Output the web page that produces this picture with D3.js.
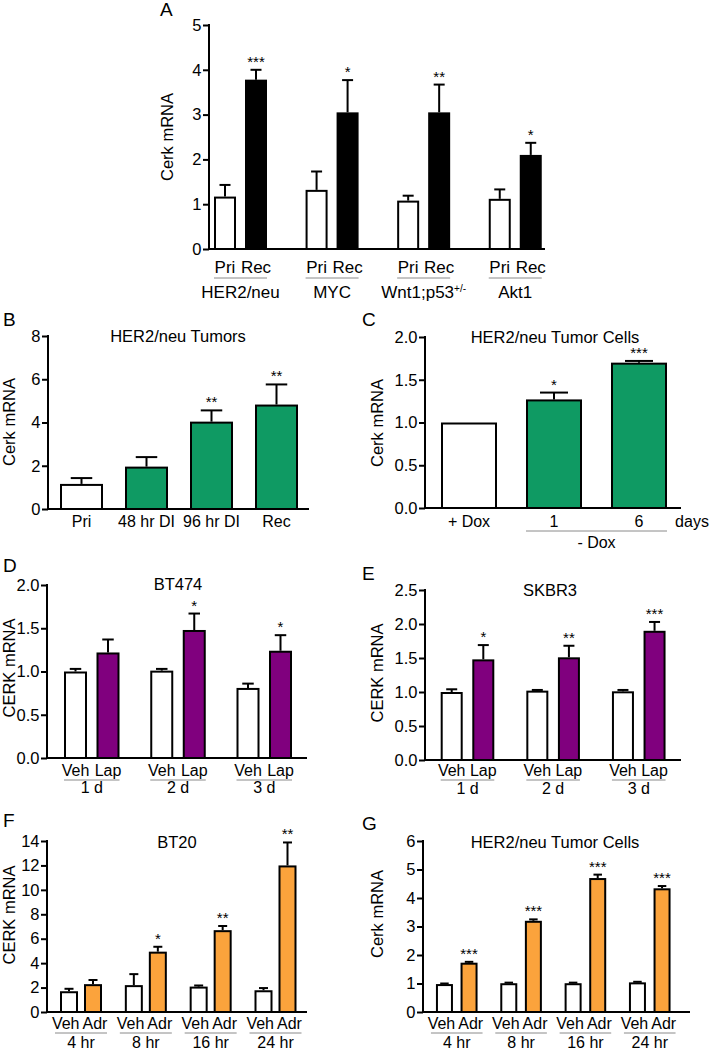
<!DOCTYPE html>
<html><head><meta charset="utf-8">
<script src="https://cdn.jsdelivr.net/npm/d3@7"></script>
<style>
body{margin:0;background:#fff}
svg{display:block}
text{font-family:'Liberation Sans',Arial,Helvetica,sans-serif;fill:#000}
</style>
</head><body>
<svg id="c" width="713" height="1050"></svg>
<script>
// ---------- DATA ----------
// Panel A
const aGroups = ["HER2/neu", "MYC", "Wnt1;p53", "Akt1"];
const aGroupSup = ["", "", "+/-", ""];
const aConds = ["Pri", "Rec"];
const aPri = [1.17, 1.32, 1.08, 1.12];
const aPriErr = [0.26, 0.41, 0.11, 0.21];
const aRec = [3.78, 3.05, 3.05, 2.10];
const aRecErr = [0.22, 0.72, 0.62, 0.27];
const aStars = ["***", "*", "**", "*"];
const aTicks = [0, 1, 2, 3, 4, 5];

// Panel B
const bCats = ["Pri", "48 hr DI", "96 hr DI", "Rec"];
const bVals = [1.16, 1.96, 4.04, 4.83];
const bErr = [0.27, 0.44, 0.52, 0.93];
const bStars = ["", "", "**", "**"];
const bTicks = [0, 2, 4, 6, 8];

// Panel C
const cCats = ["+ Dox", "1", "6"];
const cVals = [1.0, 1.27, 1.70];
const cErr = [0, 0.08, 0.02];
const cStars = ["", "*", "***"];
const cTicks = [0, 0.5, 1.0, 1.5, 2.0];

// Panel D
const dGroups = ["1 d", "2 d", "3 d"];
const dConds = ["Veh", "Lap"];
const dVeh = [1.0, 1.01, 0.81];
const dVehErr = [0.03, 0.02, 0.05];
const dLap = [1.22, 1.48, 1.24];
const dLapErr = [0.15, 0.19, 0.18];
const dStars = ["", "*", "*"];
const dTicks = [0, 0.5, 1.0, 1.5, 2.0];

// Panel E
const eGroups = ["1 d", "2 d", "3 d"];
const eConds = ["Veh", "Lap"];
const eVeh = [1.0, 1.02, 1.01];
const eVehErr = [0.04, 0.01, 0.02];
const eLap = [1.48, 1.51, 1.90];
const eLapErr = [0.21, 0.17, 0.13];
const eStars = ["*", "**", "***"];
const eTicks = [0, 0.5, 1.0, 1.5, 2.0, 2.5];

// Panel F
const fGroups = ["4 hr", "8 hr", "16 hr", "24 hr"];
const fConds = ["Veh", "Adr"];
const fVeh = [1.70, 2.20, 2.08, 1.78];
const fVehErr = [0.20, 0.90, 0.09, 0.18];
const fAdr = [2.28, 4.94, 6.70, 12.0];
const fAdrErr = [0.34, 0.40, 0.34, 1.88];
const fStars = ["", "*", "**", "**"];
const fTicks = [0, 2, 4, 6, 8, 10, 12, 14];

// Panel G
const gGroups = ["4 hr", "8 hr", "16 hr", "24 hr"];
const gConds = ["Veh", "Adr"];
const gVeh = [0.98, 1.01, 1.01, 1.04];
const gVehErr = [0.02, 0.02, 0.02, 0.02];
const gAdr = [1.73, 3.20, 4.70, 4.34];
const gAdrErr = [0.03, 0.05, 0.12, 0.08];
const gStars = ["***", "***", "***", "***"];
const gTicks = [0, 1, 2, 3, 4, 5, 6];

// ---------- DRAWING ----------
const FONT = "'Liberation Sans', Arial, Helvetica, sans-serif";
const GREEN = "#0f9a63", PURPLE = "#80007e", ORANGE = "#fba33c";
const svg = d3.select("#c");

function drawPanel(o) {
  const g = svg.append("g");
  const y = d3.scaleLinear().domain(o.yDomain).range(o.yRange);
  const gx = d3.scalePoint().domain(o.groups).range(o.groupRange);
  const inner = d3.scaleBand().domain(o.conds).range([-o.span / 2, o.span / 2]).paddingInner(o.pad);
  const bw = inner.bandwidth();

  // y axis
  const ax = d3.axisLeft(y).tickValues(o.ticks).tickFormat(o.fmt)
    .tickSize(6).tickPadding(1.5).tickSizeOuter(0);
  const axG = g.append("g").attr("transform", `translate(${o.xLeft},0)`).call(ax);
  axG.select(".domain").attr("stroke", "#000").attr("stroke-width", 2)
     .attr("d", `M0,${y(o.yDomain[1]) - 1}V${y(0) + 1}`);
  axG.selectAll(".tick line").attr("stroke", "#000").attr("stroke-width", 2);
  axG.selectAll(".tick text").style("font-size", "16.5px").style("font-family", FONT).attr("fill", "#000");

  // x axis line
  g.append("line").attr("x1", o.xLeft - 1).attr("x2", o.xRight)
    .attr("y1", y(0)).attr("y2", y(0)).attr("stroke", "#000").attr("stroke-width", 2);

  // items
  const items = [];
  o.groups.forEach((grp, i) => o.conds.forEach((c, j) => {
    items.push({
      grp, c, i, j,
      gc: gx(grp),
      cx: gx(grp) + inner(c) + bw / 2,
      v: o.values[j][i], e: o.errs[j][i],
      fill: o.fill(i, j),
      star: j === o.conds.length - 1 ? o.stars[i] : ""
    });
  }));

  // error bars
  const eb = g.append("g").attr("stroke", "#000").attr("stroke-width", 2);
  items.filter(d => d.e > 0).forEach(d => {
    eb.append("line").attr("x1", d.cx).attr("x2", d.cx).attr("y1", y(d.v)).attr("y2", y(d.v + d.e));
    eb.append("line").attr("x1", d.cx - bw / 4).attr("x2", d.cx + bw / 4)
      .attr("y1", y(d.v + d.e)).attr("y2", y(d.v + d.e));
  });

  // bars
  g.selectAll("rect.bar").data(items).join("rect").attr("class", "bar")
    .attr("x", d => d.cx - bw / 2 + 1).attr("width", bw - 2)
    .attr("y", d => y(d.v) + 1).attr("height", d => y(0) - y(d.v) - 1)
    .attr("fill", d => d.fill).attr("stroke", "#000").attr("stroke-width", 2);

  // stars
  g.selectAll("text.star").data(items.filter(d => d.star)).join("text").attr("class", "star")
    .attr("x", d => d.cx).attr("y", d => y(d.v + d.e) - 3)
    .attr("text-anchor", "middle").style("font-size", "15px").text(d => d.star);

  // condition labels
  if (o.condY) {
    const cl = g.selectAll("text.cond").data(items).join("text").attr("class", "cond")
      .attr("y", o.condY).style("font-size", o.condSize || "16px").text(d => d.c);
    if (o.split) {
      cl.attr("x", d => d.j === 0 ? d.gc - 1.5 : d.gc + 1.5)
        .attr("text-anchor", d => d.j === 0 ? "end" : "start");
    } else {
      cl.attr("x", d => d.cx).attr("text-anchor", "middle");
    }
  }
  // underline per group
  if (o.lineY) {
    o.groups.forEach(grp => {
      g.append("line").attr("x1", gx(grp) - o.span / 2 - o.lineExt).attr("x2", gx(grp) + o.span / 2 + o.lineExt)
        .attr("y1", o.lineY).attr("y2", o.lineY).attr("stroke", "#8a8a8a").attr("stroke-width", 1);
    });
  }
  // group labels
  o.groups.forEach((grp, i) => {
    const t = g.append("text").attr("x", gx(grp)).attr("y", o.groupY)
      .attr("text-anchor", "middle").style("font-size", o.groupSize || "16px").text(grp);
    if (o.sup && o.sup[i]) {
      t.append("tspan").attr("dy", -6).style("font-size", "10px").text(o.sup[i]);
    }
  });
  // title
  if (o.title) {
    g.append("text").attr("x", o.titleX).attr("y", o.titleY).attr("text-anchor", "middle")
      .style("font-size", "16.5px").text(o.title);
  }
  // y label
  g.append("text").attr("transform", `translate(${o.ylabX},${o.ylabY}) rotate(-90)`)
    .attr("text-anchor", "middle").style("font-size", "16.5px").text(o.ylab);
  // panel letter
  g.append("text").attr("x", o.letterX).attr("y", o.letterY).style("font-size", "19px").text(o.letter);

  return { g, gx, y, bw };
}

const pairPad = (off, bw) => (2 * off - bw) / (2 * off);

// Panel A
drawPanel({
  yDomain: [0, 5], yRange: [249, 25], ticks: aTicks, fmt: d3.format("d"),
  xLeft: 209, xRight: 545, groups: aGroups, groupRange: [240.5, 515.25],
  conds: aConds, span: 2 * 15.5 + 22, pad: pairPad(15.5, 22),
  values: [aPri, aRec], errs: [aPriErr, aRecErr], fill: (i, j) => j === 0 ? "#fff" : "#000",
  stars: aStars, condY: 273, condSize: "17px", lineY: 278, lineExt: 0, groupY: 298, groupSize: "17px", sup: aGroupSup,
  ylab: "Cerk mRNA", ylabX: 173, ylabY: 137, letter: "A", letterX: 160, letterY: 16
});

// Panel B
drawPanel({
  yDomain: [0, 8], yRange: [509, 336], ticks: bTicks, fmt: d3.format("d"),
  xLeft: 48, xRight: 309, groups: bCats, groupRange: [81.5, 276.5],
  conds: ["v"], span: 43, pad: 0,
  values: [bVals], errs: [bErr], fill: (i) => i === 0 ? "#fff" : GREEN,
  stars: bStars, groupY: 527,
  title: "HER2/neu Tumors", titleX: 178, titleY: 342,
  ylab: "Cerk mRNA", ylabX: 15, ylabY: 422, letter: "B", letterX: 3, letterY: 326
});

// Panel C
const pc = drawPanel({
  yDomain: [0, 2], yRange: [508, 337], ticks: cTicks, fmt: d3.format(".1f"),
  xLeft: 425, xRight: 681, groups: cCats, groupRange: [469, 639],
  conds: ["v"], span: 56, pad: 0,
  values: [cVals], errs: [cErr], fill: (i) => i === 0 ? "#fff" : GREEN,
  stars: cStars, groupY: 527,
  title: "HER2/neu Tumor Cells", titleX: 555, titleY: 342.5,
  ylab: "Cerk mRNA", ylabX: 383, ylabY: 423, letter: "C", letterX: 362, letterY: 326
});
pc.g.append("text").attr("x", 692).attr("y", 527).attr("text-anchor", "middle").style("font-size", "16px").text("days");
pc.g.append("line").attr("x1", pc.gx("1") - pc.bw / 2).attr("x2", pc.gx("6") + pc.bw / 2)
  .attr("y1", 531).attr("y2", 531).attr("stroke", "#8a8a8a").attr("stroke-width", 1);
pc.g.append("text").attr("x", (pc.gx("1") + pc.gx("6")) / 2).attr("y", 548).attr("text-anchor", "middle")
  .style("font-size", "16px").text("- Dox");

// Panel D
drawPanel({
  yDomain: [0, 2], yRange: [758, 585], ticks: dTicks, fmt: d3.format(".1f"),
  xLeft: 47, xRight: 307, groups: dGroups, groupRange: [91.75, 264.25],
  conds: dConds, span: 2 * 16.25 + 23, pad: pairPad(16.25, 23),
  values: [dVeh, dLap], errs: [dVehErr, dLapErr], fill: (i, j) => j === 0 ? "#fff" : PURPLE,
  stars: dStars, condY: 776, lineY: 780, lineExt: 0, groupY: 793,
  title: "BT474", titleX: 178, titleY: 590,
  ylab: "CERK mRNA", ylabX: 15, ylabY: 668, letter: "D", letterX: 3, letterY: 572
});

// Panel E
drawPanel({
  yDomain: [0, 2.5], yRange: [760, 590], ticks: eTicks, fmt: d3.format(".1f"),
  xLeft: 425, xRight: 681, groups: eGroups, groupRange: [467.5, 638.75],
  conds: eConds, span: 2 * 15.8 + 22, pad: pairPad(15.8, 22),
  values: [eVeh, eLap], errs: [eVehErr, eLapErr], fill: (i, j) => j === 0 ? "#fff" : PURPLE,
  stars: eStars, condY: 776, lineY: 780, lineExt: 0, groupY: 794,
  title: "SKBR3", titleX: 550, titleY: 596,
  ylab: "CERK mRNA", ylabX: 383, ylabY: 673, letter: "E", letterX: 362, letterY: 580
});

// Panel F
drawPanel({
  yDomain: [0, 14], yRange: [1012, 841], ticks: fTicks, fmt: d3.format("d"),
  xLeft: 47, xRight: 307, groups: fGroups, groupRange: [81, 275.5],
  conds: fConds, span: 2 * 12 + 18, pad: pairPad(12, 18),
  values: [fVeh, fAdr], errs: [fVehErr, fAdrErr], fill: (i, j) => j === 0 ? "#fff" : ORANGE,
  stars: fStars, condY: 1029, split: true, lineY: 1033, lineExt: 5, groupY: 1048,
  title: "BT20", titleX: 177, titleY: 848,
  ylab: "CERK mRNA", ylabX: 15, ylabY: 915, letter: "F", letterX: 3, letterY: 827
});

// Panel G
drawPanel({
  yDomain: [0, 6], yRange: [1012, 841], ticks: gTicks, fmt: d3.format("d"),
  xLeft: 423, xRight: 690, groups: gGroups, groupRange: [456.75, 649.75],
  conds: gConds, span: 2 * 12.3 + 17, pad: pairPad(12.3, 17),
  values: [gVeh, gAdr], errs: [gVehErr, gAdrErr], fill: (i, j) => j === 0 ? "#fff" : ORANGE,
  stars: gStars, condY: 1029, split: true, lineY: 1033, lineExt: 5, groupY: 1048,
  title: "HER2/neu Tumor Cells", titleX: 555, titleY: 848,
  ylab: "Cerk mRNA", ylabX: 383, ylabY: 914, letter: "G", letterX: 362, letterY: 830
});
</script>
</body></html>
